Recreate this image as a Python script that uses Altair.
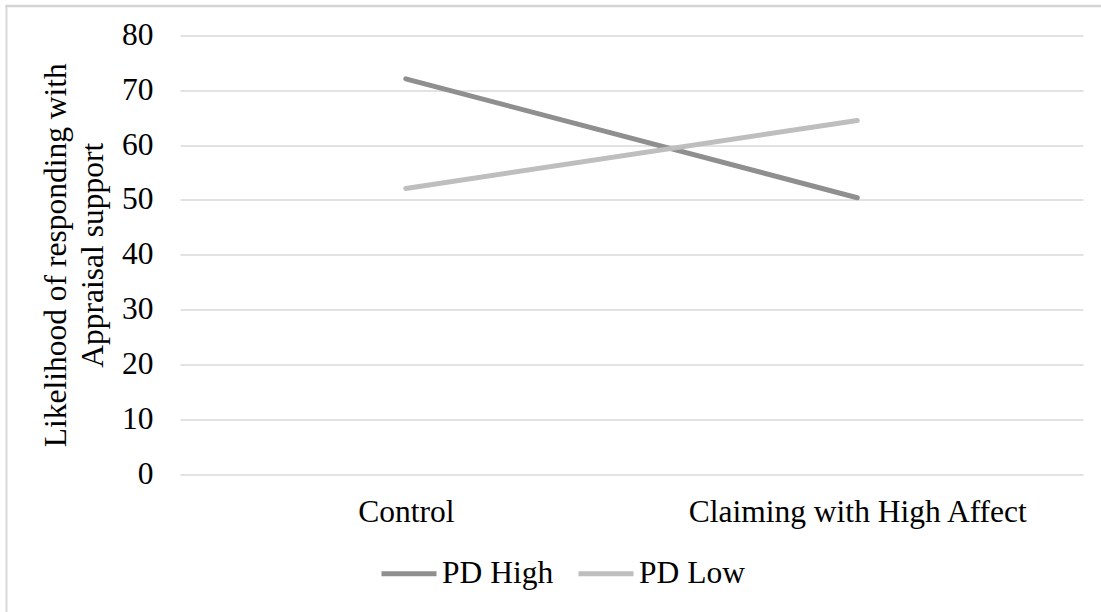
import altair as alt
import pandas as pd

categories = ["Control", "Claiming with High Affect"]
pd_high = [72.1, 50.4]
pd_low = [52.1, 64.5]
series_names = ["PD High", "PD Low"]
series_colors = ["#8f8f8f", "#bebebe"]
y_ticks = [0, 10, 20, 30, 40, 50, 60, 70, 80]

rows = []
for name, vals in zip(series_names, [pd_high, pd_low]):
    for c, v in zip(categories, vals):
        rows.append({"Condition": c, "Series": name, "Value": v})
df = pd.DataFrame(rows)

FONT = "Liberation Serif"
FS = 31.5
W, H = 903, 438.5
LEFT, TOP = 180, 35.5

lines = alt.Chart(df).mark_line(strokeWidth=5, strokeCap="round").encode(
    x=alt.X("Condition:N", sort=categories,
            scale=alt.Scale(type="point", padding=0.5),
            axis=alt.Axis(title=None, labelAngle=0, ticks=False, domain=False,
                          labelFontSize=FS, labelFont=FONT, labelColor="black",
                          labelPadding=22, labelLimit=0, grid=False)),
    y=alt.Y("Value:Q", scale=alt.Scale(domain=[0, 80], nice=False),
            axis=alt.Axis(values=y_ticks, title=["Likelihood of responding with", "Appraisal support"],
                          ticks=False, domain=False, grid=True, gridColor="#d9d9d9",
                          gridWidth=1.5, labelFontSize=FS, labelFont=FONT,
                          labelColor="black", labelPadding=27,
                          titleFont=FONT, titleFontSize=FS, titleFontWeight="normal",
                          titleColor="black", titlePadding=12, titleLineHeight=37)),
    color=alt.Color("Series:N", sort=series_names,
                    scale=alt.Scale(domain=series_names, range=series_colors),
                    legend=alt.Legend(title=None, orient="none", direction="horizontal",
                                      legendX=199, legendY=508,
                                      symbolType="stroke", symbolSize=3025,
                                      symbolStrokeWidth=5, labelFont=FONT,
                                      labelFontSize=FS, labelColor="black",
                                      labelOffset=3, columnPadding=14)),
)

frame = pd.DataFrame({"k": [0]})
border_left = alt.Chart(frame).mark_rule(color="#d9d9d9", strokeWidth=2).encode(
    x=alt.value(6.5 - LEFT), y=alt.value(5 - TOP), y2=alt.value(612 - TOP)
)
border_top = alt.Chart(frame).mark_rule(color="#d4d4d4", strokeWidth=2.5).encode(
    x=alt.value(5.5 - LEFT), x2=alt.value(1101 - LEFT), y=alt.value(6 - TOP)
)

chart = alt.layer(border_left, border_top, lines).properties(
    width=W, height=H,
    autosize=alt.AutoSizeParams(type="none"),
    padding={"left": LEFT, "top": TOP, "right": 1101 - LEFT - W, "bottom": 612 - TOP - H},
    background="white",
).configure_view(stroke=None)

chart.save("out.html", embed_options={"renderer": "svg", "actions": False})
